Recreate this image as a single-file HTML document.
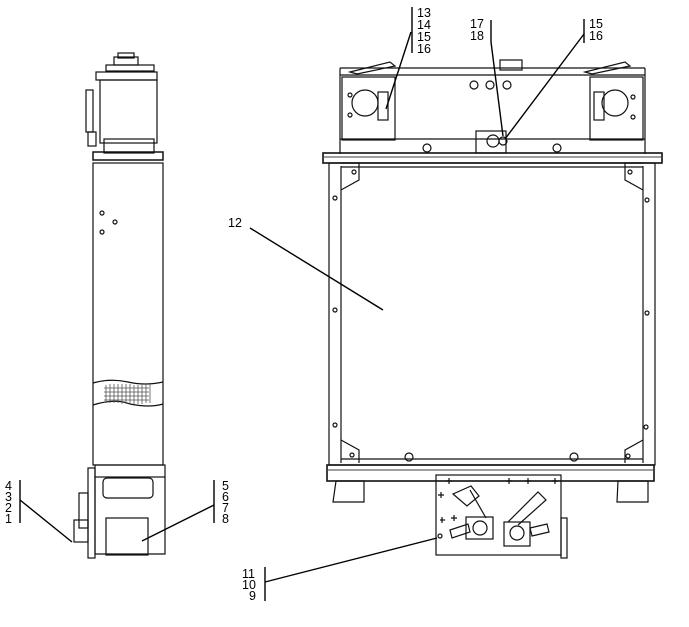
<!DOCTYPE html>
<html><head><style>
html,body{margin:0;padding:0;background:#fff;}
svg{display:block;}
text{font-family:"Liberation Sans",sans-serif;font-size:12.5px;fill:#000;}
</style></head><body>
<svg width="689" height="627" viewBox="0 0 689 627" xmlns="http://www.w3.org/2000/svg">
<g fill="none" stroke="#111" stroke-width="1.2">
<rect x="114" y="57" width="24" height="8"/>
<rect x="118" y="53" width="16" height="5"/>
<rect x="106" y="65" width="48" height="6"/>
<rect x="96" y="72" width="61" height="8"/>
<rect x="100" y="80" width="57" height="63"/>
<rect x="86" y="90" width="7" height="42"/>
<rect x="88" y="132" width="8" height="14"/>
<rect x="104" y="139" width="50" height="14"/>
<rect x="93" y="152" width="70" height="8" stroke-width="1.5"/>
<rect x="93" y="163" width="70" height="302"/>
<path d="M93 383 Q110 378 128 382 Q145 386 163 382 M93 405 Q115 398 130 404 Q150 408 163 404"/>
<g stroke="#555" stroke-width="0.8">
<path d="M106 385v18M110 384v19M114 384v19M118 384v19M122 384v20M126 384v20M130 384v20M134 385v19M138 385v19M142 385v19M146 384v19M150 384v19"/>
<path d="M104 388h45M104 392h45M104 396h45M104 400h45"/>
</g>
<circle cx="102" cy="213" r="2"/><circle cx="115" cy="222" r="2"/><circle cx="102" cy="232" r="2"/>
<rect x="88" y="468" width="7" height="90"/>
<rect x="95" y="465" width="70" height="12"/>
<rect x="79" y="493" width="9" height="35"/>
<rect x="74" y="520" width="14" height="22"/>
<path d="M95 477v77h70v-77"/>
<rect x="103" y="478" width="50" height="20" rx="4"/>
<rect x="106" y="518" width="42" height="37"/>
<path d="M340 68h305M340 68v86M645 68v86M340 75h305"/>
<path d="M350 72l40-10 5 4-38 8z M585 72l40-10 5 4-38 8z"/>
<rect x="500" y="60" width="22" height="10"/>
<rect x="342" y="77" width="53" height="63"/>
<rect x="590" y="77" width="53" height="63"/>
<circle cx="365" cy="103" r="13"/>
<circle cx="615" cy="103" r="13"/>
<rect x="378" y="92" width="10" height="28"/>
<rect x="594" y="92" width="10" height="28"/>
<circle cx="350" cy="95" r="2"/><circle cx="350" cy="115" r="2"/>
<circle cx="633" cy="97" r="2"/><circle cx="633" cy="117" r="2"/>
<circle cx="474" cy="85" r="4"/><circle cx="490" cy="85" r="4"/><circle cx="507" cy="85" r="4"/>
<rect x="476" y="131" width="30" height="22"/>
<circle cx="493" cy="141" r="6"/><circle cx="503" cy="141" r="4"/>
<circle cx="427" cy="148" r="4"/><circle cx="557" cy="148" r="4"/>
<path d="M340 139h305"/>
<rect x="323" y="153" width="339" height="10" stroke-width="1.6"/>
<path d="M324 157h337" stroke="#666"/>
<rect x="329" y="163" width="326" height="302"/>
<path d="M341 166v297M643 166v297M341 167h302M341 459h302"/>
<path d="M341 163h18v17l-18 10 M643 163h-18v17l18 10 M341 440l18 10v13 M643 440l-18 10v13"/>
<circle cx="354" cy="172" r="2"/><circle cx="630" cy="172" r="2"/>
<circle cx="352" cy="455" r="2"/><circle cx="628" cy="456" r="2"/>
<circle cx="335" cy="198" r="2"/><circle cx="335" cy="310" r="2"/><circle cx="335" cy="425" r="2"/>
<circle cx="647" cy="200" r="2"/><circle cx="647" cy="313" r="2"/><circle cx="646" cy="427" r="2"/>
<circle cx="409" cy="457" r="4"/><circle cx="574" cy="457" r="4"/>
<rect x="327" y="465" width="327" height="16" stroke-width="1.6"/>
<path d="M328 470h325" stroke="#666"/>
<path d="M336 481h28v21h-31z M618 481h30v21h-31z"/>
<rect x="436" y="475" width="125" height="80"/>
<rect x="561" y="518" width="6" height="40"/>
<path d="M453 494l18-8 8 10-12 10z M470 490l16 28"/>
<path d="M450 530l18-6 2 8-18 6z"/>
<rect x="466" y="517" width="27" height="22"/>
<circle cx="480" cy="528" r="7"/>
<path d="M508 522l30-30 8 8-28 25"/>
<path d="M530 528l17-4 2 8-17 4z"/>
<rect x="504" y="522" width="26" height="24"/>
<circle cx="517" cy="533" r="7"/>
<circle cx="440" cy="536" r="2"/>
<path d="M446 481h6M449 478v6M506 481h6M509 478v6M525 481h6M528 478v6M552 481h6M555 478v6M438 495h6M441 492v6M440 520h5M442 517v6M451 518h6M454 515v6"/>
</g>
<g stroke="#000" stroke-width="1.4" fill="none">
<path d="M412 7v46M491 20v22M584 19v24M20 480v43M214 480v43M265 567v34"/>
<path d="M411 32L386 109M491 42L503 136M584 34L505 139M250 228L383 310M20 500L72 542M214 505L142 541M265 582L437 538"/>
</g>
<text x="417" y="17">13</text><text x="417" y="29">14</text><text x="417" y="41">15</text><text x="417" y="53">16</text>
<text x="470" y="28">17</text><text x="470" y="40">18</text>
<text x="589" y="28">15</text><text x="589" y="40">16</text>
<text x="228" y="227">12</text>
<text x="5" y="490">4</text><text x="5" y="501">3</text><text x="5" y="512">2</text><text x="5" y="523">1</text>
<text x="222" y="490">5</text><text x="222" y="501">6</text><text x="222" y="512">7</text><text x="222" y="523">8</text>
<text x="242" y="578">11</text><text x="242" y="589">10</text><text x="249" y="600">9</text>
</svg>
</body></html>
